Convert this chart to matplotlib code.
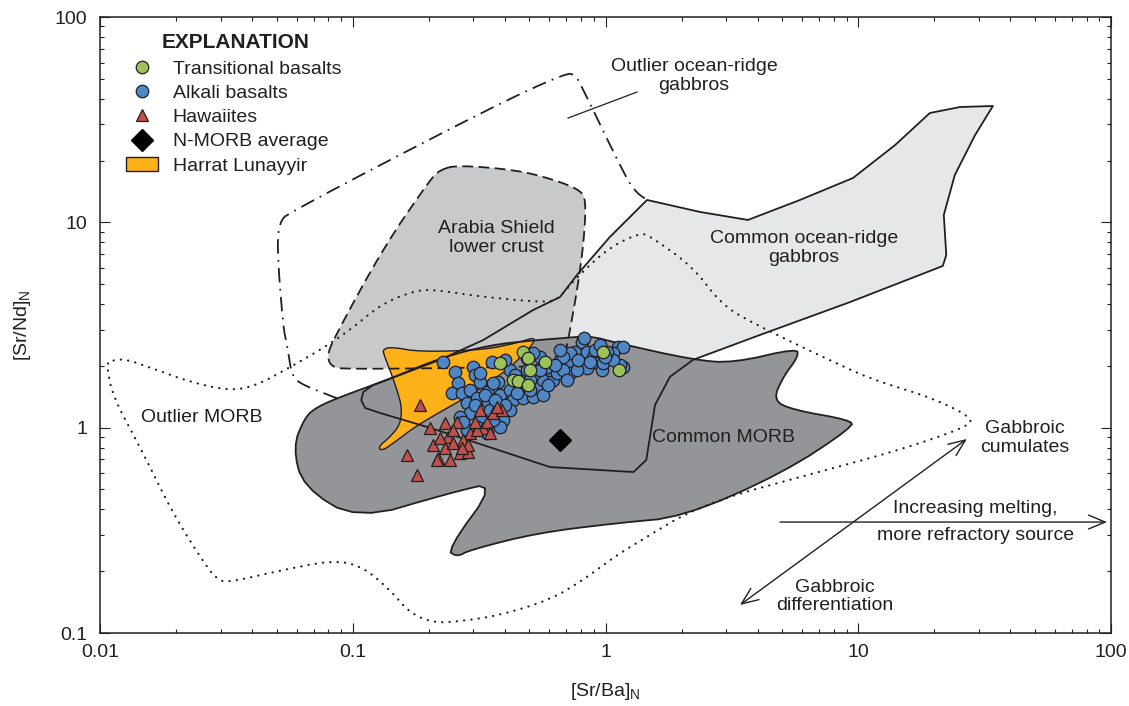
import numpy as np
import matplotlib
matplotlib.use("Agg")
import matplotlib.pyplot as plt
from matplotlib.lines import Line2D
from matplotlib.patches import Patch, Polygon
from matplotlib.ticker import LogLocator, NullFormatter

plt.rcParams['font.family'] = ['Liberation Sans', 'DejaVu Sans']
plt.rcParams['mathtext.default'] = 'regular'

INK = '#231f20'
FS = 14

# ---- sample data: [Sr/Ba]N vs [Sr/Nd]N ----
alk_x = [0.228, 0.254, 0.299, 0.305, 0.261, 0.319, 0.247, 0.271, 0.291, 0.340,
         0.356, 0.375, 0.283, 0.310, 0.343, 0.382, 0.291, 0.319, 0.266, 0.372,
         0.419, 0.431, 0.472, 0.517, 0.536, 0.566, 0.459, 0.419, 0.400, 0.566,
         0.517, 0.620, 0.603, 0.551, 0.489, 0.517, 0.661, 0.704, 0.724, 0.643,
         0.757, 0.807, 0.822, 0.845, 0.892, 0.934, 0.969, 0.845, 0.771, 0.679,
         0.909, 1.121, 1.173, 1.173, 1.141, 0.977, 1.071, 1.071, 0.724, 0.679,
         0.587, 0.551, 0.489, 0.459, 0.419, 0.393, 0.382, 0.359, 0.340, 0.310,
         0.283, 0.273, 0.489, 0.359, 0.319, 0.447, 0.503, 0.349, 0.400, 0.334,
         0.778, 0.631, 0.951, 1.014, 0.592, 0.661, 0.439, 0.365, 0.305, 0.503,
         0.704, 0.868, 0.995]
alk_y = [2.09, 1.87, 1.97, 1.81, 1.65, 1.67, 1.48, 1.48, 1.53, 1.49,
         2.09, 1.67, 1.32, 1.39, 1.33, 1.44, 1.18, 1.115, 1.13, 1.26,
         1.53, 1.36, 1.39, 1.41, 1.58, 1.44, 1.71, 1.91, 2.14, 1.71,
         1.81, 1.71, 1.91, 2.21, 2.18, 2.31, 2.14, 2.065, 1.85, 1.85,
         2.34, 2.61, 2.73, 2.34, 2.21, 2.065, 1.91, 1.95, 1.91, 1.91,
         2.39, 2.47, 2.47, 1.97, 2.02, 2.065, 2.31, 2.14, 2.31, 2.21,
         1.97, 1.91, 1.91, 1.58, 1.22, 1.09, 1.01, 1.09, 0.942, 1.01,
         0.974, 1.066, 1.58, 1.65, 1.85, 1.48, 1.53, 1.22, 1.29, 1.44,
         2.14, 2.02, 2.53, 2.34, 1.61, 2.39, 1.81, 1.36, 1.29, 1.71,
         1.71, 2.09, 2.21]

trans_x = [0.382, 0.472, 0.494, 0.576, 0.503, 0.431, 0.451, 0.494, 0.977, 1.131]
trans_y = [2.065, 2.34, 2.18, 2.09, 1.91, 1.71, 1.69, 1.61, 2.34, 1.91]

haw_x = [0.185, 0.202, 0.164, 0.180, 0.208, 0.217, 0.232, 0.238, 0.243, 0.232,
         0.259, 0.266, 0.249, 0.286, 0.291, 0.273, 0.319, 0.328, 0.340, 0.359,
         0.389, 0.349, 0.310, 0.249, 0.372, 0.215, 0.221, 0.286, 0.305, 0.271]
haw_y = [1.29, 0.996, 0.736, 0.588, 0.823, 0.712, 1.054, 0.901, 0.696, 0.796,
         1.066, 0.753, 0.842, 0.761, 0.942, 0.871, 1.22, 0.996, 1.066, 1.18,
         1.22, 0.942, 0.974, 0.974, 1.26, 0.696, 0.891, 0.823, 1.066, 0.796]

nmorb_x = [0.661]
nmorb_y = [0.871]

# ---- field outlines ----
gab_x = [1.46, 2.37, 3.66, 5.88, 9.53, 14.0, 19.2, 25.3, 34.1, 29.0, 24.1, 21.8,
         22.3, 21.6, 9.28, 4.09, 2.22, 1.80, 1.57, 1.45, 1.29, 0.603, 0.310, 0.197,
         0.128, 0.112, 0.108, 0.110, 0.120, 0.137, 0.221, 0.328, 0.517, 0.661,
         0.771, 1.04]
gab_y = [12.85, 11.23, 10.27, 12.85, 16.44, 23.81, 34.08, 36.45, 36.86, 26.63,
         17.00, 10.86, 6.93, 6.13, 4.09, 2.83, 2.14, 1.77, 1.29, 0.696, 0.608,
         0.643, 0.842, 1.008, 1.18, 1.247, 1.36, 1.49, 1.61, 1.71, 2.14, 2.67,
         3.74, 4.33, 5.54, 8.48]

morb_x = [0.0722, 0.0890, 0.137, 0.221, 0.349, 0.536, 0.679, 0.868, 1.11, 2.22,
          3.20, 5.72, 5.78, 5.04, 4.60, 5.52, 9.28, 9.53, 5.04, 2.03, 1.11, 0.536,
          0.291, 0.2585, 0.236, 0.372, 0.2425, 0.104, 0.0636, 0.058, 0.0647]
morb_y = [1.26, 1.41, 1.71, 2.18, 2.53, 2.67, 2.73, 2.80, 2.585, 2.14,
          2.065, 2.44, 2.21, 1.765, 1.36, 1.22, 1.09, 1.008, 0.6015, 0.367, 0.343,
          0.307, 0.254, 0.2345, 0.254, 0.544, 0.481, 0.355, 0.514, 0.805, 1.127]

arabia_x = [0.221, 0.2585, 0.4465, 0.631, 0.793, 0.837, 0.822, 0.778, 0.724,
            0.679, 0.2425, 0.0949, 0.0828, 0.0791, 0.0835, 0.132, 0.202]
arabia_y = [17.98, 19.0, 17.98, 16.08, 14.37, 12.85, 8.20, 4.95, 2.99,
            2.00, 1.95, 1.93, 1.97, 2.21, 2.67, 7.50, 16.08]

harrat_x = [0.1317, 0.143, 0.1845, 0.3275, 0.4465, 0.526, 0.5165, 0.4715, 0.400,
            0.291, 0.221, 0.176, 0.147, 0.1305, 0.1259, 0.1404, 0.1538, 0.1566,
            0.1497, 0.1404, 0.1329]
harrat_y = [2.41, 2.47, 2.34, 2.39, 2.585, 2.76, 2.56, 2.26, 1.87,
            1.44, 1.19, 1.008, 0.852, 0.770, 0.805, 0.901, 1.03, 1.247,
            1.526, 1.909, 2.26]

out_gab_x = [0.0866, 0.0709, 0.0630, 0.0575, 0.0550, 0.0530, 0.0501, 0.0515,
             0.0555, 0.3555, 0.698, 0.757, 0.793, 1.216, 1.332, 1.459]
out_gab_y = [1.39, 1.53, 1.63, 1.765, 2.527, 3.093, 7.756, 10.04,
             11.10, 36.45, 53.37, 52.19, 47.71, 16.08, 13.90, 12.85]

out_morb_x = [0.01075, 0.01233, 0.0168, 0.0227, 0.0327, 0.0418, 0.0565, 0.0763,
              0.0975, 0.1317, 0.180, 0.215, 0.3275, 0.603, 0.661, 0.771, 1.042,
              1.369, 1.500, 2.22, 2.84, 3.73, 9.28, 12.2, 19.8, 28.4, 26.9, 14.6,
              5.88, 3.03, 2.03, 1.50, 1.11, 0.815, 0.603, 0.382, 0.266, 0.208,
              0.1685, 0.1404, 0.1098, 0.0835, 0.0484, 0.0327, 0.0290, 0.0249,
              0.0194, 0.0144, 0.01126, 0.01066]
out_morb_y = [2.09, 2.18, 1.91, 1.67, 1.51, 1.61, 1.97, 2.44,
              2.99, 4.05, 4.68, 4.68, 4.33, 4.05, 4.33, 5.42, 7.59,
              8.87, 8.58, 6.06, 4.05, 3.27, 1.91, 1.67, 1.39, 1.115, 1.008, 0.778,
              0.575, 0.460, 0.376, 0.300, 0.240, 0.181, 0.145, 0.122, 0.114, 0.112,
              0.125, 0.162, 0.210, 0.227, 0.198, 0.177, 0.181, 0.2345,
              0.384, 0.805, 1.41, 1.97]


def smooth(xs, ys, n=2, closed=True):
    # corner cutting in log space so curves stay round on the log axes
    p = np.column_stack([np.log10(xs), np.log10(ys)])
    for _ in range(n):
        if closed:
            a, b = p, np.roll(p, -1, axis=0)
        else:
            a, b = p[:-1], p[1:]
        q = np.empty((2 * len(a), 2))
        q[0::2] = 0.75 * a + 0.25 * b
        q[1::2] = 0.25 * a + 0.75 * b
        if not closed:
            q = np.vstack([p[:1], q, p[-1:]])
        p = q
    return 10 ** p


fig = plt.figure(figsize=(11.29, 7.06), dpi=100)
ax = fig.add_axes([100 / 1129, 1 - 633 / 706, 1011 / 1129, 616 / 706])
ax.set_xscale('log')
ax.set_yscale('log')
ax.set_xlim(0.01, 100)
ax.set_ylim(0.1, 100)

# fills
ax.add_patch(Polygon(np.column_stack([gab_x, gab_y]), closed=True,
                     fc='#e6e7e8', ec='none', zorder=1))
ax.add_patch(Polygon(smooth(arabia_x, arabia_y), closed=True,
                     fc='#c8c9cb', ec='none', zorder=2))
ax.add_patch(Polygon(smooth(morb_x, morb_y), closed=True,
                     fc='#939598', ec='none', zorder=3))
ax.add_patch(Polygon(smooth(harrat_x, harrat_y), closed=True,
                     fc='#fdb119', ec='none', zorder=4))

# outlines
ax.add_patch(Polygon(np.column_stack([gab_x, gab_y]), closed=True,
                     fc='none', ec=INK, lw=1.3, zorder=5, joinstyle='round'))
ax.add_patch(Polygon(smooth(morb_x, morb_y), closed=True,
                     fc='none', ec=INK, lw=1.3, zorder=5))
ax.add_patch(Polygon(smooth(harrat_x, harrat_y), closed=True,
                     fc='none', ec=INK, lw=1.0, zorder=5))
ax.add_patch(Polygon(smooth(arabia_x, arabia_y), closed=True,
                     fc='none', ec=INK, lw=1.3, ls=(0, (6, 3)), zorder=5))
og = smooth(out_gab_x, out_gab_y, closed=False)
ax.plot(og[:, 0], og[:, 1], color=INK, lw=1.3, ls=(0, (8, 3.5, 1, 3.5)), zorder=5)
om = smooth(out_morb_x, out_morb_y)
om = np.vstack([om, om[:1]])
ax.plot(om[:, 0], om[:, 1], color=INK, lw=1.6, ls=(0, (0.1, 3.2)),
        dash_capstyle='round', zorder=5)

# samples
mk = dict(linestyle='none', markeredgecolor=INK, markeredgewidth=0.9, zorder=6)
ax.plot(alk_x, alk_y, marker='o', ms=9, markerfacecolor='#4f86c6', **mk)
ax.plot(trans_x, trans_y, marker='o', ms=9, markerfacecolor='#9bc25b', **mk)
ax.plot(haw_x, haw_y, marker='^', ms=9, markerfacecolor='#c0504d', **mk)
ax.plot(nmorb_x, nmorb_y, marker='D', ms=11, markerfacecolor='black',
        markeredgecolor='black', linestyle='none', zorder=7)

# field labels
lab = dict(fontsize=FS, color=INK, ha='center', va='center', linespacing=1.1, zorder=8)
ax.text(2.24, 51.6, 'Outlier ocean-ridge\ngabbros', **lab)
ax.text(0.369, 8.39, 'Arabia Shield\nlower crust', **lab)
ax.text(6.10, 7.50, 'Common ocean-ridge\ngabbros', **lab)
ax.text(0.0253, 1.115, 'Outlier MORB', **lab)
ax.text(2.94, 0.891, 'Common MORB', **lab)
ax.text(45.7, 0.891, 'Gabbroic\ncumulates', **lab)
ax.text(29.0, 0.402, 'Increasing melting,', **lab)
ax.text(29.0, 0.300, 'more refractory source', **lab)
ax.text(8.09, 0.151, 'Gabbroic\ndifferentiation', **lab)

# leader and trend arrows
ax.plot([0.711, 1.332], [32.2, 43.1], color=INK, lw=0.9, zorder=5)
ax.annotate('', xy=(96.4, 0.347), xytext=(4.90, 0.347),
            arrowprops=dict(arrowstyle='->,head_length=0.6,head_width=0.25',
                            lw=1.0, color=INK, shrinkA=0, shrinkB=0,
                            mutation_scale=20), zorder=8)
ax.annotate('', xy=(26.9, 0.881), xytext=(3.405, 0.137),
            arrowprops=dict(arrowstyle='<->,head_length=0.6,head_width=0.25',
                            lw=1.0, color=INK, shrinkA=0, shrinkB=0,
                            mutation_scale=20), zorder=8)

# axes styling
ax.set_xticks([0.01, 0.1, 1, 10, 100])
ax.set_xticklabels(['0.01', '0.1', '1', '10', '100'])
ax.set_yticks([0.1, 1, 10, 100])
ax.set_yticklabels(['0.1', '1', '10', '100'])
for a in (ax.xaxis, ax.yaxis):
    a.set_minor_locator(LogLocator(base=10, subs=np.arange(2, 10)))
    a.set_minor_formatter(NullFormatter())
ax.tick_params(which='both', direction='in', top=True, right=True,
               colors=INK, labelsize=FS, width=0.8)
ax.tick_params(which='major', length=7.5)
ax.tick_params(which='minor', length=3)
ax.tick_params(axis='x', pad=8)
ax.tick_params(axis='y', pad=9)
for s in ax.spines.values():
    s.set_linewidth(1.1)
    s.set_color(INK)

ax.set_xlabel('[Sr/Ba]$_\\mathregular{N}$', fontsize=FS, color=INK, labelpad=14)
ax.set_ylabel('[Sr/Nd]$_\\mathregular{N}$', fontsize=FS, color=INK, labelpad=16)

# explanation
handles = [
    Line2D([], [], marker='o', ms=9, ls='none', mfc='#9bc25b', mec=INK, mew=0.9),
    Line2D([], [], marker='o', ms=9, ls='none', mfc='#4f86c6', mec=INK, mew=0.9),
    Line2D([], [], marker='^', ms=9, ls='none', mfc='#c0504d', mec=INK, mew=0.9),
    Line2D([], [], marker='D', ms=11, ls='none', mfc='black', mec='black'),
    Patch(fc='#fdb119', ec=INK, lw=1.0),
]
names = ['Transitional basalts', 'Alkali basalts', 'Hawaiites',
         'N-MORB average', 'Harrat Lunayyir']
leg = ax.legend(handles, names, loc='upper left', bbox_to_anchor=(0.0257, 0.930),
                frameon=False, fontsize=FS, borderpad=0, borderaxespad=0,
                handlelength=1.65, handletextpad=0.75, labelspacing=0.34)
for t in leg.get_texts():
    t.set_color(INK)
ax.text(0.0613, 0.959, 'EXPLANATION', transform=ax.transAxes, fontsize=15,
        fontweight='bold', color=INK, ha='left', va='center')

fig.savefig('out.png', dpi=100)
